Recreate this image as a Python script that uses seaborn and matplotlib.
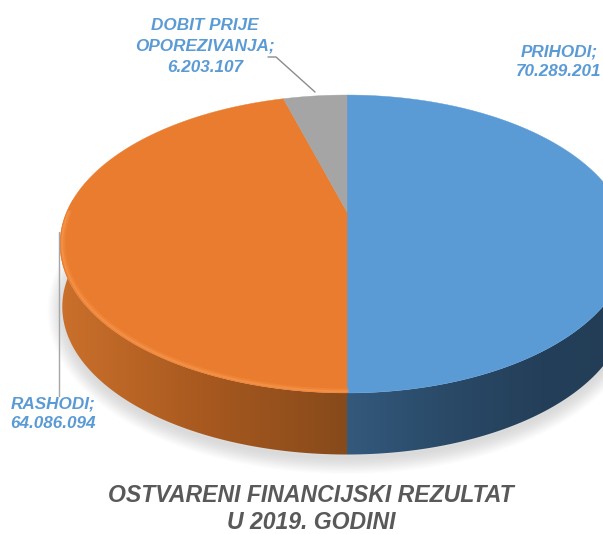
import numpy as np
import matplotlib
matplotlib.use("Agg")
import matplotlib.pyplot as plt
import seaborn as sns
from matplotlib.colors import ListedColormap
from matplotlib.patches import Polygon

# Values
categories = ["PRIHODI", "RASHODI", "DOBIT PRIJE\nOPOREZIVANJA"]
values = [70289201, 64086094, 6203107]
value_labels = ["70.289.201", "64.086.094", "6.203.107"]
title_lines = "OSTVARENI FINANCIJSKI REZULTAT\nU 2019. GODINI"

top_colors = ["#5b9bd5", "#e97c2e", "#a5a5a5"]

sns.set_theme(style="white")
plt.rcParams["font.family"] = ["Liberation Sans", "DejaVu Sans"]

HUB_X, HUB_Y = 347, 212
K, A, B = 0.2148, 142.1, 280.3
DEPTH = 63


# Project a pie angle (clockwise from the top) onto the tilted disc
def project(theta, r=1.0, drop=0.0, shrink=1.0):
    x = r * np.sin(theta)
    y = r * np.cos(theta)
    w = 1 + K * y
    right = np.where(x > 0, 0.982, 1.0)
    return HUB_X + shrink * right * B * x / w, HUB_Y - shrink * A * y / w + drop


fig = plt.figure(figsize=(6.03, 5.34), dpi=100)
ax = fig.add_axes([0, 0, 1, 1])

# Angles from the values
fractions = np.array(values) / sum(values)
edges = np.concatenate([[0], np.cumsum(fractions)]) * 2 * np.pi

# Soft shadow under the disc
t = np.linspace(0, 2 * np.pi, 240)
for i in range(14):
    sx, sy = project(t, drop=DEPTH + 3, shrink=0.985)
    ax.fill(sx, sy + 1, color="none", ec="#7f7f7f", lw=24 - i * 1.7, alpha=0.02, zorder=1)

# Side wall, shaded left to right
side_colors = sns.blend_palette(["#cb702c", "#a8591f", "#874a1b"], 128) + \
    sns.blend_palette(["#33597c", "#2a4a68", "#243f59", "#233d56"], 128)
side_cmap = ListedColormap(side_colors)
ramp = np.r_[np.linspace(0, 0.499, 280), np.linspace(0.501, 1, 260)].reshape(1, -1)
for start, stop, lo, hi in [(edges[1], np.pi * 1.6, 0, 0.5), (np.pi * 0.4, edges[1], 0.5, 1)]:
    th = np.linspace(start, stop, 200)
    x1, y1 = project(th)
    x2, y2 = project(th[::-1], drop=DEPTH, shrink=0.992)
    outline = Polygon(np.c_[np.r_[x1, x2], np.r_[y1, y2]], closed=True, fc="none", ec="none",
                      transform=ax.transData)
    ax.add_patch(outline)
    part = ramp[:, (ramp[0] >= lo) & (ramp[0] <= hi)]
    x_lo, x_hi = (58, HUB_X) if lo == 0 else (HUB_X, 640)
    img = ax.imshow(part, cmap=side_cmap, vmin=0, vmax=1, extent=[x_lo, x_hi, 470, 200],
                    aspect="auto", zorder=2, interpolation="bilinear")
    img.set_clip_path(outline)

ax.set_xlim(0, 603)
ax.set_ylim(534, 0)
ax.axis("off")

# Top of the disc
for start, stop, color in zip(edges[:-1], edges[1:], top_colors):
    th = np.linspace(start, stop, 150)
    x, y = project(th)
    ax.fill(np.r_[HUB_X, x], np.r_[HUB_Y, y], color=color, lw=0.3, zorder=3)

# Light rim on the lower part of the orange slice
th = np.linspace(edges[1], np.pi * 1.5, 200)
x, y = project(th, r=0.99)
ax.plot(x, y, color="#f68f42", lw=3.2, alpha=0.45, zorder=4)
x, y = project(th, r=0.993)
ax.plot(x, y, color="#f99a50", lw=1.4, alpha=0.55, zorder=4)

# Leader lines
ax.plot([59, 59], [232, 396], color="#a6a6a6", lw=1, zorder=5)
ax.plot([268, 276, 315], [57, 57, 92], color="#8c8c8c", lw=1, zorder=5)

# Data labels
label_style = dict(color="#5b9bd5", fontsize=12.3, fontweight="bold", fontstyle="italic",
                   ha="center", va="center", zorder=6)
ax.text(205, 46, f"{categories[2]};\n{value_labels[2]}", linespacing=1.5, **label_style)
ax.text(559, 62, f"{categories[0]};\n{value_labels[0]}", linespacing=1.35, **label_style)
ax.text(53, 414, f"{categories[1]};\n{value_labels[1]}", linespacing=1.35, **label_style)

ax.text(311, 509, title_lines, color="#595959", fontsize=16.6, fontweight="bold",
        fontstyle="italic", ha="center", va="center", linespacing=1.22, zorder=6)

fig.savefig("out.png", dpi=100)
